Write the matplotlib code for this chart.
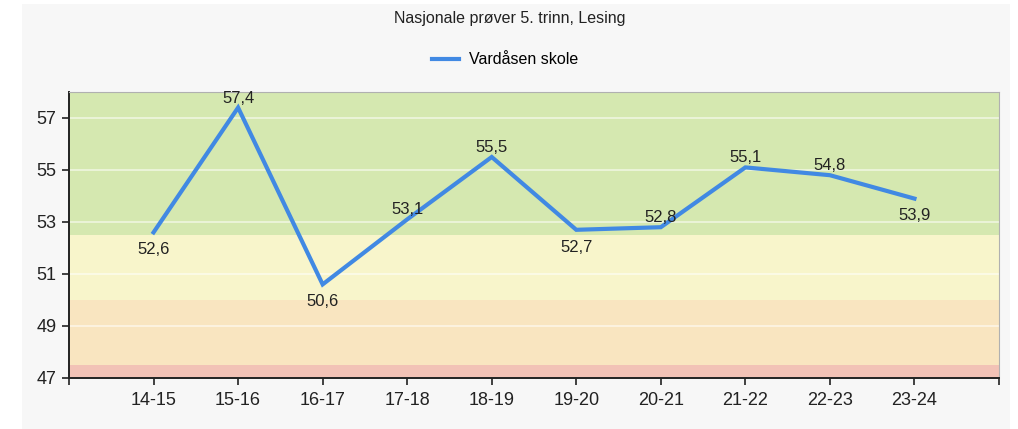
import matplotlib
matplotlib.use("Agg")
import matplotlib.pyplot as plt

categories = ["14-15", "15-16", "16-17", "17-18", "18-19", "19-20", "20-21", "21-22", "22-23", "23-24"]
values = [52.6, 57.4, 50.6, 53.1, 55.5, 52.7, 52.8, 55.1, 54.8, 53.9]
label_pos = ["below", "above", "below", "above", "above", "below", "above", "above", "above", "below"]
series_name = "Vardåsen skole"
title = "Nasjonale prøver 5. trinn, Lesing"
y_ticks = [47, 49, 51, 53, 55, 57]
bands = [(47.0, 47.5, "#f2c2b6"), (47.5, 50.0, "#f9e5c0"), (50.0, 52.5, "#f8f5cb"), (52.5, 58.0, "#d5e8b0")]

plt.rcParams['font.family'] = ['Liberation Sans', 'DejaVu Sans']

fig = plt.figure(figsize=(10.18, 4.29), dpi=100)
fig.patch.set_facecolor("white")
# light gray panel background
bg = fig.add_axes([22/1018, 0, (1010-22)/1018, (429-4)/429])
bg.set_facecolor("#f7f7f7")
bg.set_xticks([]); bg.set_yticks([])
for s in bg.spines.values():
    s.set_visible(False)
bg.set_zorder(-5)

ax = fig.add_axes([69/1018, 51/429, (999-69)/1018, (378-92)/429])
ax.set_xlim(0, 11)
ax.set_ylim(47, 58)
for lo, hi, c in bands:
    ax.axhspan(lo, hi, color=c, zorder=0, lw=0)
for t in y_ticks:
    ax.axhline(t, color="white", lw=1.2, alpha=0.6, zorder=1)

x = list(range(1, len(categories) + 1))
line, = ax.plot(x, values, color="#4189e3", lw=3.0, zorder=3, label=series_name, solid_joinstyle="miter")

for xi, v, p in zip(x, values, label_pos):
    txt = f"{v:.1f}".replace(".", ",")
    if p == "above":
        ax.annotate(txt, (xi, v), xytext=(0, 1.5), textcoords="offset points", ha="center", va="bottom", fontsize=12, color="#222222", zorder=4)
    else:
        ax.annotate(txt, (xi, v), xytext=(0, -7), textcoords="offset points", ha="center", va="top", fontsize=12, color="#222222", zorder=4)

ax.set_xticks(list(range(0, 12)))
ax.set_xticklabels([""] + categories + [""], fontsize=13, color="#222222")
ax.set_yticks(y_ticks)
ax.set_yticklabels([str(t) for t in y_ticks], fontsize=13, color="#222222")
ax.tick_params(axis="both", direction="out", length=5, width=1.2, color="#222222")
ax.tick_params(axis="x", pad=5)
ax.tick_params(axis="y", pad=4)
ax.spines["left"].set_color("#222222"); ax.spines["left"].set_linewidth(1.4)
ax.spines["bottom"].set_color("#222222"); ax.spines["bottom"].set_linewidth(1.4)
ax.spines["top"].set_color("#b0b0b0"); ax.spines["top"].set_linewidth(0.8)
ax.spines["right"].set_color("#b0b0b0"); ax.spines["right"].set_linewidth(0.8)

fig.text(510/1018, 1 - 19/429, title, ha="center", va="center", fontsize=11.5, color="#222222")
leg = fig.legend(handles=[line], loc="center", bbox_to_anchor=(505/1018, 1 - 60/429), frameon=False, fontsize=11.5, handlelength=1.7, handletextpad=0.6)

fig.savefig("out.png", dpi=100, facecolor=fig.get_facecolor())
